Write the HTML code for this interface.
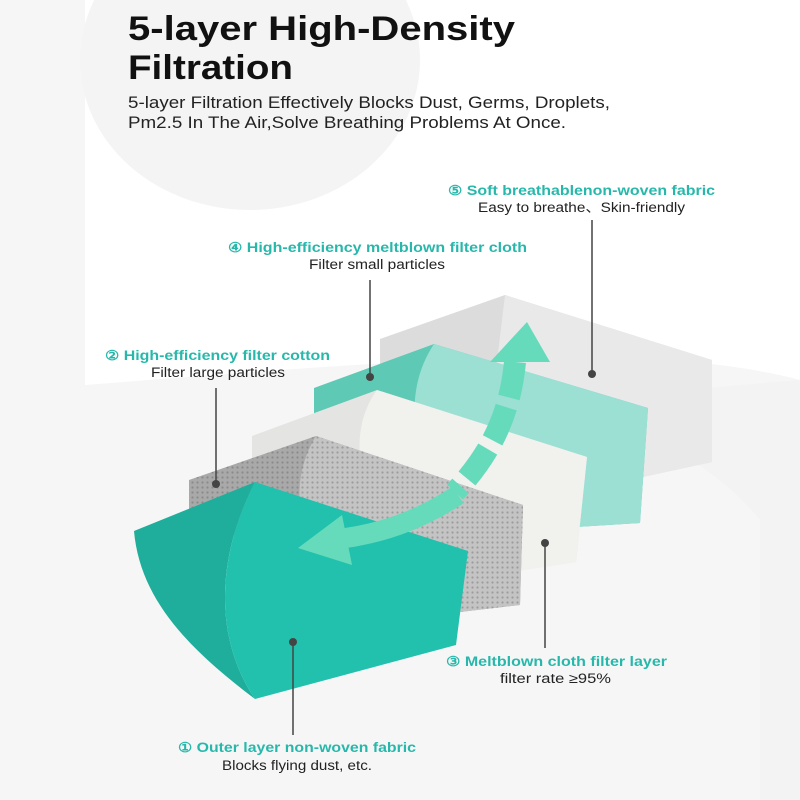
<!DOCTYPE html>
<html><head><meta charset="utf-8"><style>
html,body{margin:0;padding:0;width:800px;height:800px;overflow:hidden;background:#fafafa;font-family:"Liberation Sans",sans-serif}
</style></head><body>
<svg width="800" height="800" viewBox="0 0 800 800" xmlns="http://www.w3.org/2000/svg">
<defs>
<pattern id="dots" width="5" height="5" patternUnits="userSpaceOnUse"><rect width="5" height="5" fill="#a9a9a9"/><circle cx="2.5" cy="2.5" r="1.1" fill="#8a8a8a"/></pattern>
<pattern id="dots2" width="5" height="5" patternUnits="userSpaceOnUse"><rect width="5" height="5" fill="#c4c4c4"/><circle cx="2.5" cy="2.5" r="1.1" fill="#9c9c9c"/></pattern>
</defs>
<rect width="800" height="800" fill="#f6f6f6"/>
<path d="M85 0 H800 V380 C650 340 400 360 85 385 Z" fill="#ffffff"/>
<ellipse cx="250" cy="60" rx="170" ry="150" fill="#f4f4f4"/>
<path d="M560 400 C650 430 720 470 760 520 L760 800 L800 800 L800 380 Z" fill="#f3f3f3"/>

<text x="128" y="40" font-size="34" font-weight="bold" fill="#111" textLength="387" lengthAdjust="spacingAndGlyphs">5-layer High-Density</text>
<text x="128" y="79" font-size="34" font-weight="bold" fill="#111" textLength="165" lengthAdjust="spacingAndGlyphs">Filtration</text>
<text x="128" y="108" font-size="17" fill="#222" textLength="482" lengthAdjust="spacingAndGlyphs">5-layer Filtration Effectively Blocks Dust, Germs, Droplets,</text>
<text x="128" y="128" font-size="17" fill="#222" textLength="438" lengthAdjust="spacingAndGlyphs">Pm2.5 In The Air,Solve Breathing Problems At Once.</text>

<!-- layer 5 -->
<polygon points="380,339 505,295 712,360 712,462 638,478 380,400" fill="#dcdcdc"/>
<polygon points="505,295 712,360 712,462 638,478 490,420" fill="#e9e9e9"/>
<!-- layer 4 -->
<polygon points="314,388 434,344 648,408 640,523 560,528 314,430" fill="#5ec9b5"/>
<path d="M434,344 C410,380 412,420 420,450 L560,528 640,523 648,408 Z" fill="#9be0d3"/>
<!-- layer 3 -->
<polygon points="252,436 377,390 587,457 576,562 510,572 252,470" fill="#e4e4e2"/>
<path d="M377,390 C355,420 355,460 370,500 L510,572 576,562 587,457 Z" fill="#f1f1ee"/>
<!-- layer 2 -->
<polygon points="189,480 316,436 523,505 520,605 460,612 189,520" fill="url(#dots)"/>
<path d="M316,436 C295,470 295,510 310,540 L460,612 520,605 523,505 Z" fill="url(#dots2)"/>
<!-- layer 1 -->
<path d="M134,531 L255,482 C215,560 215,640 255,699 C190,650 140,600 134,531 Z" fill="#1fae9c"/>
<path d="M255,482 L468,551 L456,645 L255,699 C215,640 215,560 255,482 Z" fill="#22c1ae"/>

<!-- arrow -->
<path d="M515,362 C510,415 490,455 455,492" stroke="#66dbbb" stroke-width="22" fill="none" stroke-dasharray="36 10"/>
<polygon points="527,322 550,362 490,362" fill="#66dbbb"/>
<path d="M458,495 C420,520 380,535 330,540" stroke="#66dbbb" stroke-width="20" fill="none"/>
<polygon points="298,548 342,515 352,565" fill="#66dbbb"/>

<!-- leaders -->
<g stroke="#444" stroke-width="1.5">
<line x1="592" y1="220" x2="592" y2="374"/>
<line x1="370" y1="280" x2="370" y2="377"/>
<line x1="216" y1="388" x2="216" y2="484"/>
<line x1="545" y1="543" x2="545" y2="648"/>
<line x1="293" y1="643" x2="293" y2="735"/>
</g>
<g fill="#444">
<circle cx="592" cy="374" r="4"/><circle cx="370" cy="377" r="4"/><circle cx="216" cy="484" r="4"/><circle cx="545" cy="543" r="4"/><circle cx="293" cy="642" r="4"/>
</g>

<g font-size="13.5" font-weight="bold" fill="#27b8ab" lengthAdjust="spacingAndGlyphs">
<text x="448" y="195" textLength="267" lengthAdjust="spacingAndGlyphs">⑤ Soft breathablenon-woven fabric</text>
<text x="228" y="252" textLength="299" lengthAdjust="spacingAndGlyphs">④ High-efficiency meltblown filter cloth</text>
<text x="105" y="360" textLength="225" lengthAdjust="spacingAndGlyphs">② High-efficiency filter cotton</text>
<text x="446" y="666" textLength="221" lengthAdjust="spacingAndGlyphs">③ Meltblown cloth filter layer</text>
<text x="178" y="752" textLength="238" lengthAdjust="spacingAndGlyphs">① Outer layer non-woven fabric</text>
</g>
<g font-size="13.5" fill="#222">
<text x="478" y="212" textLength="207" lengthAdjust="spacingAndGlyphs">Easy to breathe、Skin-friendly</text>
<text x="309" y="269" textLength="136" lengthAdjust="spacingAndGlyphs">Filter small particles</text>
<text x="151" y="377" textLength="134" lengthAdjust="spacingAndGlyphs">Filter large particles</text>
<text x="500" y="683" textLength="111" lengthAdjust="spacingAndGlyphs">filter rate ≥95%</text>
<text x="222" y="770" textLength="150" lengthAdjust="spacingAndGlyphs">Blocks flying dust, etc.</text>
</g>
</svg>
</body></html>
